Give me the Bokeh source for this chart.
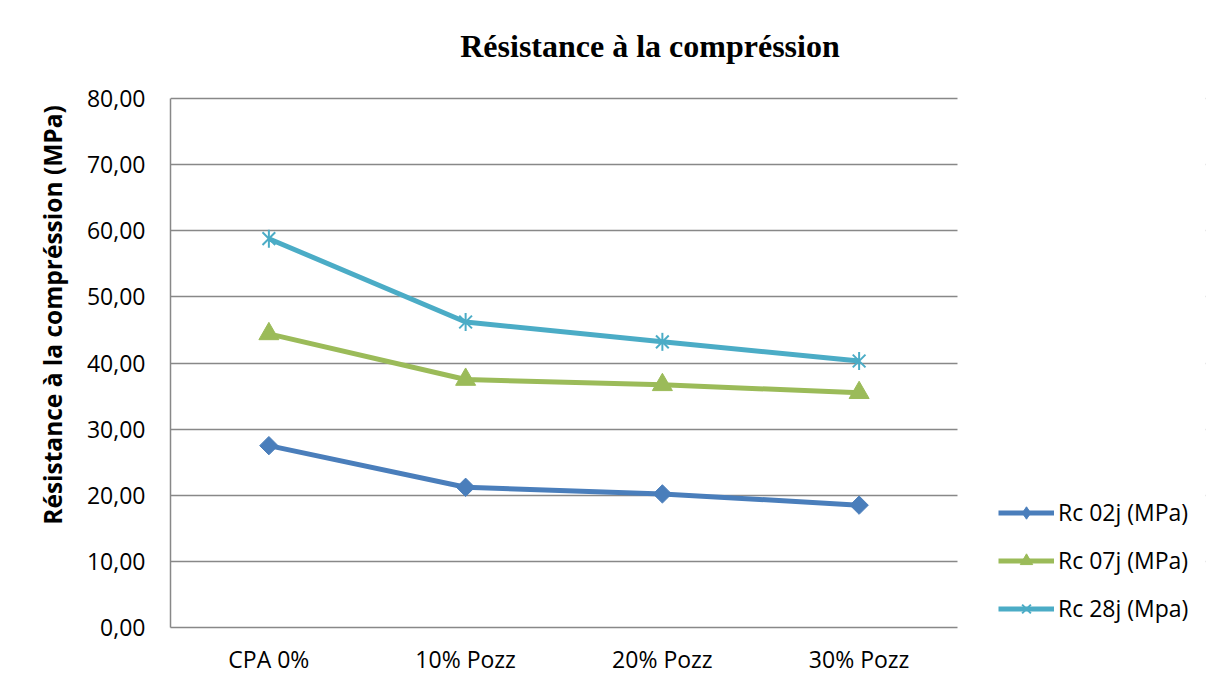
import math
from bokeh.plotting import figure
from bokeh.models import (Range1d, FixedTicker, Legend, LegendItem, Label, BoxAnnotation)
from bokeh.embed import file_html
from bokeh.resources import INLINE

# ---- data ----
categories = ["CPA 0%", "10% Pozz", "20% Pozz", "30% Pozz"]
rc02 = [27.5, 21.2, 20.2, 18.5]
rc07 = [44.4, 37.5, 36.7, 35.5]
rc28 = [58.8, 46.2, 43.2, 40.3]
series_names = ["Rc 02j (MPa)", "Rc 07j (MPa)", "Rc 28j (Mpa)"]
y_ticks = [0, 10, 20, 30, 40, 50, 60, 70, 80]
y_tick_labels = ["0,00", "10,00", "20,00", "30,00", "40,00", "50,00", "60,00", "70,00", "80,00"]
title_text = "Résistance à la compréssion"
y_title = "Résistance à la compréssion (MPa)"

x_pos = list(range(len(categories)))

GRID = "#888888"
C02 = "#4A7EBB"
C07 = "#9BBB59"
C28 = "#4BACC6"
FONT = "Open Sans"

# ---- layout (pixels) ----
W, H = 1207, 678
LEFT, RIGHT, TOP, BOTTOM = 170, 2, 2, 51
PLOT_W, PLOT_H = 787, 529          # visible plotting area (categories, 0..80)
frame_w = W - LEFT - RIGHT
frame_h = H - TOP - BOTTOM
unit_x = PLOT_W / len(categories)
unit_y = PLOT_H / y_ticks[-1]
x_start = -0.5
x_stop = x_start + len(categories)
x_end = x_start + frame_w / unit_x
y_end = frame_h / unit_y

p = figure(
    x_range=Range1d(x_start, x_end),
    y_range=Range1d(0, y_end),
    width=W, height=H,
    output_backend="svg", toolbar_location=None,
    min_border_left=LEFT, min_border_right=RIGHT,
    min_border_top=TOP, min_border_bottom=BOTTOM,
)
p.outline_line_color = None
p.background_fill_color = "white"
p.border_fill_color = "white"

# grid
p.xgrid.grid_line_color = None
p.ygrid.grid_line_color = GRID
p.ygrid.grid_line_width = 1.5
# keep the grid inside the category area (legend area stays blank)
p.add_layout(BoxAnnotation(left=x_stop, fill_color="white", fill_alpha=1.0,
                           line_color=None, level="underlay"))

# axes
p.xaxis.ticker = FixedTicker(ticks=x_pos)
p.xaxis.major_label_overrides = {i: c for i, c in zip(x_pos, categories)}
p.xaxis.bounds = (x_start, x_stop)
p.yaxis.ticker = FixedTicker(ticks=y_ticks)
p.yaxis.major_label_overrides = {t: l for t, l in zip(y_ticks, y_tick_labels)}
p.yaxis.bounds = (y_ticks[0], y_ticks[-1])
for ax in (p.xaxis[0], p.yaxis[0]):
    ax.axis_line_color = GRID
    ax.axis_line_width = 1.5
    ax.major_tick_line_color = None
    ax.major_tick_in = 0
    ax.major_tick_out = 0
    ax.minor_tick_line_color = None
    ax.major_label_text_font = FONT
    ax.major_label_text_font_size = "23px"
    ax.major_label_text_color = "black"
p.yaxis.major_label_standoff = 25
p.xaxis.major_label_standoff = 15
p.yaxis.axis_label = y_title
p.yaxis.axis_label_text_font = FONT
p.yaxis.axis_label_text_font_style = "bold"
p.yaxis.axis_label_text_font_size = "24.5px"
p.yaxis.axis_label_text_color = "black"
p.yaxis.axis_label_standoff = 15

# series
l02 = p.line(x_pos, rc02, line_color=C02, line_width=5)
m02 = p.scatter(x_pos, rc02, marker="square", angle=math.pi / 4, size=13,
                fill_color=C02, line_color=C02)
l07 = p.line(x_pos, rc07, line_color=C07, line_width=5)
m07 = p.scatter(x_pos, rc07, marker="triangle", size=20,
                fill_color=C07, line_color=C07)
l28 = p.line(x_pos, rc28, line_color=C28, line_width=5)
m28a = p.scatter(x_pos, rc28, marker="x", size=18, line_color=C28, line_width=2)
m28b = p.scatter(x_pos, rc28, marker="dash", angle=math.pi / 2, size=18,
                 line_color=C28, line_width=2)
# legend proxy: diamond symbol (legend glyphs are drawn unrotated); size 0 in the plot
d02 = p.scatter(x_pos, rc02, marker="diamond", size=0, fill_color=C02, line_color=C02)

legend = Legend(
    items=[
        LegendItem(label=series_names[0], renderers=[l02, d02]),
        LegendItem(label=series_names[1], renderers=[l07, m07]),
        LegendItem(label=series_names[2], renderers=[l28, m28a, m28b]),
    ],
    location=(PLOT_W + 41, 3),
    orientation="vertical",
    glyph_width=56, glyph_height=31, label_height=31,
    label_standoff=4, spacing=16, padding=0, margin=0,
    border_line_color=None, background_fill_alpha=0,
    label_text_font=FONT, label_text_font_size="23px", label_text_color="black",
)
p.add_layout(legend)

title = Label(
    x=479.5, y=582, x_units="screen", y_units="screen",
    text=title_text, text_align="center", text_baseline="alphabetic",
    text_font="Liberation Serif", text_font_style="bold", text_font_size="32px",
    text_color="black",
)
p.add_layout(title)

open("out.html", "w").write(file_html(p, INLINE))
